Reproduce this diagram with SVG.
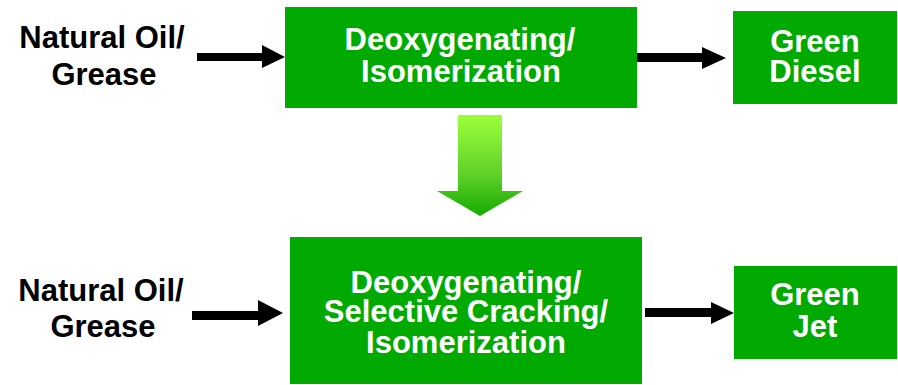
<svg xmlns="http://www.w3.org/2000/svg" width="898" height="385" viewBox="0 0 898 385">
<defs>
<style>
.box{fill:#00aa00;}
.bt{font-family:"Liberation Sans",Arial,sans-serif;font-weight:bold;font-size:31px;fill:#ffffff;text-anchor:middle;}
.lt{font-family:"Liberation Sans",Arial,sans-serif;font-weight:bold;font-size:31px;fill:#000000;text-anchor:middle;}
.arr{fill:#000000;}
</style>
<linearGradient id="dg" x1="0" y1="0" x2="0" y2="1">
<stop offset="0" stop-color="#9cff3a"/>
<stop offset="0.6" stop-color="#5fd02a"/>
<stop offset="1" stop-color="#15aa00"/>
</linearGradient>
</defs>
<g id="input1"><text class="lt" x="102" y="48">Natural Oil/</text><text class="lt" x="104" y="85">Grease</text></g>
<g id="process1"><rect class="box" x="285" y="7" width="352" height="101"/><text class="bt" x="460" y="50">Deoxygenating/</text><text class="bt" x="461" y="82">Isomerization</text></g>
<g id="output1"><rect class="box" x="733" y="11" width="164" height="93"/><text class="bt" x="815" y="52">Green</text><text class="bt" x="815" y="82">Diesel</text></g>
<g id="input2"><text class="lt" x="101" y="301">Natural Oil/</text><text class="lt" x="103" y="337">Grease</text></g>
<g id="process2"><rect class="box" x="290" y="237" width="352" height="147"/><text class="bt" x="466" y="293">Deoxygenating/</text><text class="bt" x="466" y="322">Selective Cracking/</text><text class="bt" x="466" y="353">Isomerization</text></g>
<g id="output2"><rect class="box" x="734" y="266" width="163" height="93"/><text class="bt" x="815" y="305">Green</text><text class="bt" x="815" y="337">Jet</text></g>
<g id="connectors">
<polygon class="arr" points="197,53 262,53 262,45 285,57 262,68 262,61 197,61"/>
<polygon class="arr" points="637,53 702,53 702,47 726,58 702,69 702,62 637,62"/>
<polygon class="arr" points="192,311 258,311 258,300 283,313 258,326 258,320 192,320"/>
<polygon class="arr" points="645,308 711,308 711,302 734,313 711,324 711,317 645,317"/>
<polygon fill="url(#dg)" points="458,115 502,115 502,191 523,191 480,216 437,191 458,191"/>
</g>
</svg>
